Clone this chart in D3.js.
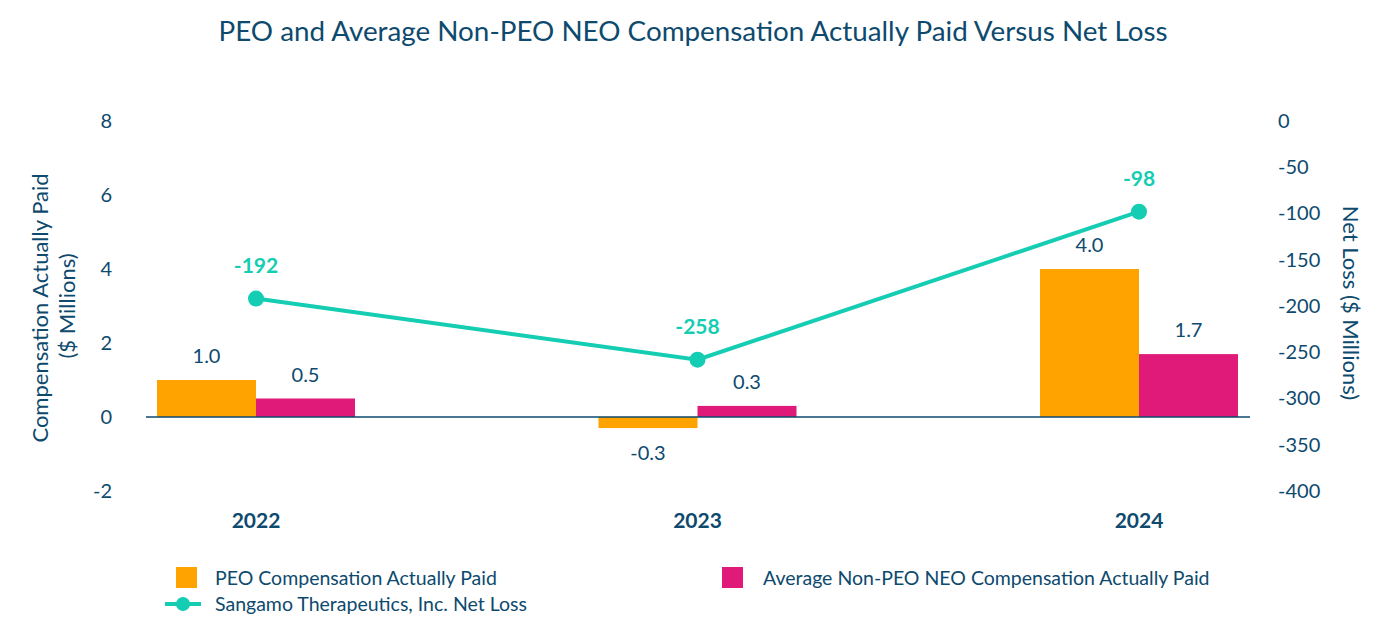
<!DOCTYPE html>
<html><head><meta charset="utf-8">
<script src="https://cdn.jsdelivr.net/npm/d3@7"></script>
<style>body{margin:0;background:#fff;} svg{display:block;font-family:Lato,"Open Sans",sans-serif;}</style>
</head><body>
<svg id="c" width="1390" height="640"></svg>
<script>
const years = ["2022","2023","2024"];
const peoCAP = [1.0, -0.3, 4.0];
const neoCAP = [0.5, 0.3, 1.7];
const netLoss = [-192, -258, -98];
const leftTicks = [-2,0,2,4,6,8];
const rightTicks = [0,-50,-100,-150,-200,-250,-300,-350,-400];

const navy = "#0d4a6e", orange = "#FFA300", pink = "#E01A79", teal = "#14CDB3";
const svg = d3.select("#c");

const x = d3.scalePoint().domain(years).range([256,1139]);
const yL = d3.scaleLinear().domain([-2,8]).range([491,121]);
const yR = d3.scaleLinear().domain([-400,0]).range([491,121]);
const bw = 99;
const hy = d => String(d).replace("\u2212","-");

svg.append("text").attr("x",693).attr("y",41).attr("text-anchor","middle")
  .attr("fill",navy).attr("font-size",27.8).text("PEO and Average Non-PEO NEO Compensation Actually Paid Versus Net Loss");

// axes
const gL = svg.append("g").attr("transform","translate(112,0)")
  .call(d3.axisLeft(yL).tickValues(leftTicks).tickSize(0).tickPadding(0).tickFormat(hy));
const gR = svg.append("g").attr("transform","translate(1278,0)")
  .call(d3.axisRight(yR).tickValues(rightTicks).tickSize(0).tickPadding(0).tickFormat(hy));
[gL,gR].forEach(g=>{g.select(".domain").remove();
  g.selectAll("text").attr("fill",navy).attr("font-size",20).attr("font-family","Lato,sans-serif");});

// axis titles
svg.append("text").attr("transform","translate(48,308) rotate(-90)").attr("text-anchor","middle")
  .attr("fill",navy).attr("font-size",22).text("Compensation Actually Paid");
svg.append("text").attr("transform","translate(75,306) rotate(-90)").attr("text-anchor","middle")
  .attr("fill",navy).attr("font-size",22).text("($ Millions)");
svg.append("text").attr("transform","translate(1343,303) rotate(90)").attr("text-anchor","middle")
  .attr("fill",navy).attr("font-size",22).text("Net Loss ($ Millions)");

// bars
const data = years.map((y,i)=>({y,peo:peoCAP[i],neo:neoCAP[i],nl:netLoss[i]}));
svg.selectAll(".peo").data(data).enter().append("rect")
  .attr("x",d=>x(d.y)-bw).attr("width",bw)
  .attr("y",d=>yL(Math.max(0,d.peo))).attr("height",d=>Math.abs(yL(d.peo)-yL(0)))
  .attr("fill",orange);
svg.selectAll(".neo").data(data).enter().append("rect")
  .attr("x",d=>x(d.y)).attr("width",bw)
  .attr("y",d=>yL(Math.max(0,d.neo))).attr("height",d=>Math.abs(yL(d.neo)-yL(0)))
  .attr("fill",pink);

// zero line
svg.append("line").attr("x1",146).attr("x2",1250).attr("y1",yL(0)).attr("y2",yL(0))
  .attr("stroke",navy).attr("stroke-width",1.5);

// bar labels
const fmt = v => v.toFixed(1);
svg.selectAll(".pl").data(data).enter().append("text")
  .attr("x",d=>x(d.y)-bw/2).attr("y",d=>d.peo>=0? yL(d.peo)-17 : yL(d.peo)+32)
  .attr("text-anchor","middle").attr("fill",navy).attr("font-size",20).text(d=>fmt(d.peo));
svg.selectAll(".nl2").data(data).enter().append("text")
  .attr("x",d=>x(d.y)+bw/2).attr("y",d=>yL(d.neo)-17)
  .attr("text-anchor","middle").attr("fill",navy).attr("font-size",20).text(d=>fmt(d.neo));

// line
svg.append("path").datum(data).attr("fill","none").attr("stroke",teal).attr("stroke-width",4)
  .attr("d",d3.line().x(d=>x(d.y)).y(d=>yR(d.nl)));
svg.selectAll(".pt").data(data).enter().append("circle")
  .attr("cx",d=>x(d.y)).attr("cy",d=>yR(d.nl)).attr("r",8).attr("fill",teal);
svg.selectAll(".ptl").data(data).enter().append("text")
  .attr("x",d=>x(d.y)).attr("y",d=>yR(d.nl)-26)
  .attr("text-anchor","middle").attr("fill",teal).attr("font-size",21).attr("font-weight","bold").text(d=>String(d.nl));

// x labels
svg.selectAll(".xl").data(years).enter().append("text")
  .attr("x",d=>x(d)).attr("y",528).attr("text-anchor","middle")
  .attr("fill",navy).attr("font-size",21).attr("font-weight","bold").text(d=>d);

// legend
const lg = svg.append("g");
lg.append("rect").attr("x",176).attr("y",567).attr("width",21).attr("height",21).attr("fill",orange);
lg.append("text").attr("x",215).attr("y",585).attr("fill",navy).attr("font-size",19.5).text("PEO Compensation Actually Paid");
lg.append("rect").attr("x",722).attr("y",567).attr("width",21).attr("height",21).attr("fill",pink);
lg.append("text").attr("x",763).attr("y",585).attr("fill",navy).attr("font-size",19.5).text("Average Non-PEO NEO Compensation Actually Paid");
lg.append("line").attr("x1",165).attr("x2",201).attr("y1",604).attr("y2",604).attr("stroke",teal).attr("stroke-width",4);
lg.append("circle").attr("cx",183).attr("cy",604).attr("r",7).attr("fill",teal);
lg.append("text").attr("x",215).attr("y",611).attr("fill",navy).attr("font-size",19.5).text("Sangamo Therapeutics, Inc. Net Loss");
</script>
</body></html>
